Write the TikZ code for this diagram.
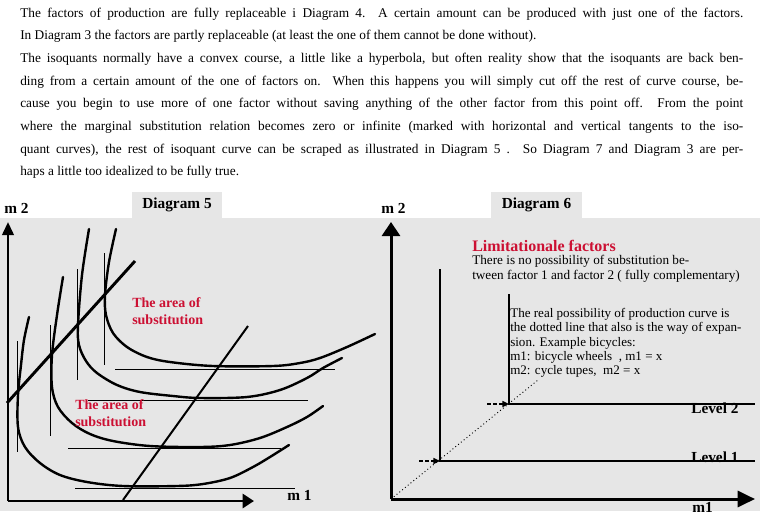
\documentclass[tikz,border=0pt]{standalone}
\usepackage{fontspec}
\setmainfont{Liberation Serif}
\usetikzlibrary{arrows.meta}
\pgfdeclarelayer{background}
\pgfsetlayers{background,main}
\definecolor{panelgray}{RGB}{230,230,230}
\definecolor{areared}{RGB}{204,16,51}

\tikzset{
	tab/.style={fill=panelgray,minimum height=19.5pt,inner sep=0pt,font=\bfseries\fontsize{11.5}{12}\selectfont},
	axislabel/.style={inner sep=0pt,anchor=base west,font=\bfseries\fontsize{11.5}{12}\selectfont},
	areatext/.style={inner sep=0pt,anchor=north west,align=left,text=areared,font=\bfseries\fontsize{10.5}{12.75}\selectfont},
	isoquant/.style={line width=1.8pt,line cap=round},
	tangent/.style={line width=0.75pt},
	levelline/.style={line width=0.9pt},
	levelarrow/.style={line width=1.1pt,dash pattern=on 3pt off 1.5pt,-{Triangle[length=5pt,width=4.5pt]}}
}

\begin{document}
\begin{tikzpicture}[x=0.75pt,y=-0.75pt]
\useasboundingbox (0,0) rectangle (760,522);

\node[anchor=north west,inner sep=0pt,text width=542.25pt,align=justify,
	font=\fontsize{10}{17}\selectfont] (intro) at (20,7.5)
	{The factors of production are fully replaceable i Diagram 4.\ \ A certain amount can be produced with just one of the factors.\linebreak
	In Diagram 3 the factors are partly replaceable (at least the one of them cannot be done without).\\
	The isoquants normally have a convex course, a little like a hyperbola, but often reality show that the isoquants are back ben-\linebreak
	ding from a certain amount of the one of factors on. When this happens you will simply cut off the rest of curve course, be-\linebreak
	cause you begin to use more of one factor without saving anything of the other factor from this point off. From the point\linebreak
	where the marginal substitution relation becomes zero or infinite (marked with horizontal and vertical tangents to the iso-\linebreak
	quant curves), the rest of isoquant curve can be scraped as illustrated in Diagram 5 . So Diagram 7 and Diagram 3 are per-\linebreak
	haps a little too idealized to be fully true.};

\begin{pgfonlayer}{background}
	\fill[panelgray] (0,218) rectangle (760,511);
\end{pgfonlayer}

% Diagram 5
\node[tab,minimum width=67.5pt] (tab5) at (177,205) {Diagram 5};
\coordinate (o5) at (8,501);
\coordinate (y5) at (8,222);
\coordinate (x5) at (254,501);
\draw[line width=2pt,-{Triangle[length=9.75pt,width=8.5pt]}] (o5) -- (y5);
\draw[line width=2pt,-{Triangle[length=8.5pt,width=10.5pt]}] (o5) -- (x5);
\node[axislabel] (m2a) at (4,213) {m 2};
\node[axislabel] (m1a) at (287,500) {m 1};

\draw[isoquant] plot[smooth,tension=0.55] coordinates {(29,317) (24,340) (21,365) (18,395) (18,427) (25,447) (40,463) (60,475) (87,482) (123,486) (177,486) (203,484) (230,478) (253,467) (270,457) (289,445)};
\draw[isoquant] plot[smooth,tension=0.55] coordinates {(63,277) (57,315) (52,355) (52,387) (58,407) (72,423) (90,434) (113,441) (150,446) (200,447) (230,445) (260,438) (287,427) (307,417) (323,406)};
\draw[isoquant] plot[smooth,tension=0.55] coordinates {(89,229) (82,275) (78,325) (79,345) (86,361) (97,373) (117,385) (140,392) (173,396) (200,398) (247,397) (280,390) (307,378) (323,368) (342,358)};
\draw[isoquant] plot[smooth,tension=0.55] coordinates {(116,229) (109,262) (105,295) (106,315) (113,333) (127,347) (147,357) (170,362) (213,366) (273,366) (300,363) (320,358) (347,347) (375,334)};

\foreach \x/\a/\b in {17/341/452, 50/325/436, 77/269/380, 104/253/365}
	\draw[tangent] (\x,\a) -- (\x,\b);
\foreach \y/\a/\b in {488/75/295, 448/68/281, 400/88/308, 369/115/335}
	\draw[tangent] (\a,\y) -- (\b,\y);

\draw[line width=2.2pt] (7,403) -- (135,261);
\draw[line width=1.5pt] (123,500) -- (248,326);

\node[areatext] (area1) at (132,297) {The area of\\substitution};
\node[areatext] (area2) at (75,399) {The area of\\substitution};

% Diagram 6
\node[tab,minimum width=68.25pt] (tab6) at (536.5,205) {Diagram 6};
\coordinate (o6) at (391,499);
\coordinate (y6) at (391,222);
\coordinate (x6) at (755,499);
\draw[line width=2.25pt,-{Triangle[length=10.5pt,width=13.5pt]}] (o6) -- (y6);
\draw[line width=2.25pt,-{Triangle[length=13pt,width=12pt]}] (o6) -- (x6);
\node[axislabel] (m2b) at (381,213) {m 2};
\node[axislabel] (m1b) at (692,512) {m1};

\coordinate (p1) at (440,461);
\coordinate (p2) at (509,404);
\draw[levelline] (440,269) -- (p1) -- (755,461);
\draw[levelline] (509,294) -- (p2) -- (755,404);
\draw[dotted,line width=0.7pt] (o6) -- (538,380);
\draw[levelarrow] (419,461) -- (p1);
\draw[levelarrow] (487,404) -- (p2);

\node[axislabel] (lev2) at (691,413) {Level 2};
\node[axislabel] (lev1) at (691,462) {Level 1};

\node[inner sep=0pt,anchor=base west,text=areared,font=\bfseries\fontsize{12}{13}\selectfont] (limit) at (472,251) {Limitationale factors};
\node[inner sep=0pt,anchor=north west,align=left,font=\fontsize{9.9}{10.9}\selectfont] (nosub) at (472,255)
	{There is no possibility of substitution be-\\tween factor 1 and factor 2 ( fully complementary)};
\node[inner sep=0pt,anchor=north west,align=left,font=\fontsize{9.8}{10.7}\selectfont] (real) at (510,308)
	{The real possibility of production curve is\\the dotted line that also is the way of expan-\\sion. Example bicycles:\\m1: bicycle wheels~ , m1 = x\\m2: cycle tupes,~ m2 = x};
\end{tikzpicture}
\end{document}
